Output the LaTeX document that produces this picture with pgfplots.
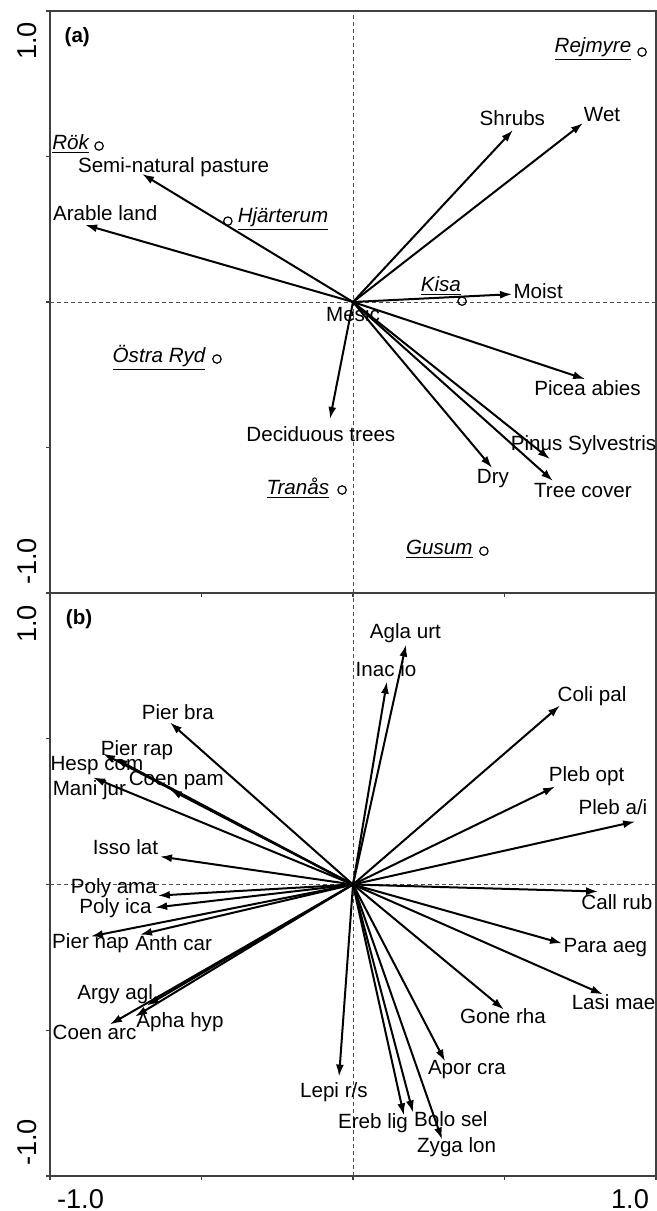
\documentclass[border=0pt]{standalone}
\usepackage{fontspec}
\setmainfont{Liberation Sans}
\usepackage{pgfplots}
\pgfplotsset{compat=1.18}
\usepackage{pgfplotstable}
\usetikzlibrary{arrows.meta}

\newcommand{\lab}{\fontsize{10.3}{12}\selectfont}
\newcommand{\tk}{\fontsize{13.6}{16}\selectfont}

% (a) environmental variables: arrow tips
\pgfplotstableread[col sep=comma]{
u,v
-0.696,0.440
-0.884,0.265
0.528,0.591
0.759,0.615
0.525,0.027
0.766,-0.265
0.650,-0.540
0.660,-0.615
0.459,-0.570
-0.076,-0.402
}\arrowsA

\pgfplotstableread[col sep=comma]{
x,y,lab
-0.592,0.464,Semi-natural pasture
-0.818,0.306,Arable land
0.526,0.632,Shrubs
0.822,0.646,Wet
0.611,0.038,Moist
0.000,-0.041,Mesic
0.774,-0.296,Picea abies
0.761,-0.491,Pinus Sylvestris
0.759,-0.649,Tree cover
0.462,-0.605,Dry
-0.106,-0.454,Deciduous trees
}\labA

% (a) sites
\pgfplotstableread[col sep=comma]{
x,y
0.954,0.859
-0.838,0.536
-0.413,0.278
0.360,0.003
-0.449,-0.196
-0.036,-0.646
0.432,-0.856
}\sitesA

\pgfplotstableread[col sep=comma]{
x,y,lab
0.792,0.869,Rejmyre
-0.932,0.543,Rök
-0.231,0.285,Hjärterum
0.290,0.055,Kisa
-0.640,-0.192,Östra Ryd
-0.182,-0.639,Tranås
0.285,-0.849,Gusum
}\sitelabA

% (b) species
\pgfplotstableread[col sep=comma]{
u,v
-0.604,0.556
-0.825,0.449
-0.785,0.432
-0.604,0.326
-0.858,0.367
-0.637,0.096
-0.644,-0.038
-0.653,-0.079
-0.865,-0.178
-0.703,-0.172
-0.680,-0.415
-0.719,-0.453
-0.802,-0.480
-0.046,-0.659
0.168,-0.792
0.198,-0.782
0.294,-0.875
0.304,-0.607
0.498,-0.429
0.825,-0.377
0.690,-0.202
0.809,-0.024
0.931,0.216
0.667,0.336
0.683,0.614
0.175,0.823
0.112,0.696
}\arrowsB

\pgfplotstableread[col sep=comma]{
x,y,lab
-0.578,0.590,Pier bra
-0.713,0.460,Pier rap
-0.845,0.408,Hesp com
-0.583,0.357,Coen pam
-0.870,0.322,Mani jur
-0.751,0.127,Isso lat
-0.789,-0.014,Poly ama
-0.784,-0.082,Poly ica
-0.866,-0.202,Pier nap
-0.592,-0.202,Anth car
-0.785,-0.377,Argy agl
-0.571,-0.473,Apha hyp
-0.853,-0.508,Coen arc
-0.063,-0.713,Lepi r/s
0.066,-0.820,Ereb lig
0.323,-0.806,Bolo sel
0.342,-0.902,Zyga lon
0.376,-0.635,Apor cra
0.495,-0.453,Gone rha
0.860,-0.405,Lasi mae
0.833,-0.216,Para aeg
0.871,-0.062,Call rub
0.858,0.264,Pleb a/i
0.771,0.370,Pleb opt
0.789,0.645,Coli pal
0.173,0.861,Agla urt
0.109,0.738,Inac io
}\labB

\pgfplotsset{
  ord/.style={
    scale only axis, width=303pt,
    xmin=-1, xmax=1, ymin=-1, ymax=1,
    xtick={-1,-0.5,0,0.5,1}, ytick={-1,-0.5,0,0.5,1},
    xticklabels={}, yticklabels={},
    tick align=outside, xtick pos=bottom, ytick pos=left,
    major tick length=2pt,
    axis line style={black!75, line width=0.7pt},
    tick style={black!75, line width=0.7pt},
    clip=false,
  },
  vec/.style={black, line width=1pt,
    -{Latex[length=6pt,width=4pt]},
    quiver={u=\thisrow{u}, v=\thisrow{v}}},
  txt/.style={draw=none, mark=none, nodes near coords,
    point meta=explicit symbolic,
    nodes near coords style={anchor=center, font=\lab, inner sep=0pt}},
}

\begin{document}
\begin{tikzpicture}
\path[use as bounding box] (-25pt,-309pt) rectangle (303.5pt,296.5pt);

\begin{axis}[ord, height=291pt, at={(0pt,0pt)}, anchor=south west]
\draw[black!70, line width=0.4pt, dash pattern=on 2pt off 1.5pt]
  (axis cs:-1,0) -- (axis cs:1,0) (axis cs:0,-1) -- (axis cs:0,1);
\addplot[vec] table[x expr=0, y expr=0] {\arrowsA};
\addplot[only marks, mark=o, mark size=2.1pt, mark options={line width=0.6pt}, black] table {\sitesA};
\addplot[txt] table[meta=lab] {\labA};
\addplot[draw=none, mark=none, point meta=explicit symbolic,
  nodes near coords={\underline{\itshape\pgfplotspointmeta}},
  nodes near coords style={anchor=center, font=\lab, inner sep=0pt}]
  table[meta=lab] {\sitelabA};
\node[font=\lab\bfseries] at (rel axis cs:0.045,0.955) {(a)};
\node[font=\tk, rotate=90, anchor=base east] at ([xshift=-6.5pt,yshift=-2pt]rel axis cs:0,1) {1.0};
\node[font=\tk, rotate=90, anchor=base west] at ([xshift=-6.5pt,yshift=0.5pt]rel axis cs:0,0) {-1.0};
\end{axis}

\begin{axis}[ord, height=291.5pt, at={(0pt,-291.5pt)}, anchor=south west]
\draw[black!70, line width=0.4pt, dash pattern=on 2pt off 1.5pt]
  (axis cs:-1,0) -- (axis cs:1,0) (axis cs:0,-1) -- (axis cs:0,1);
\addplot[vec] table[x expr=0, y expr=0] {\arrowsB};
\addplot[txt] table[meta=lab] {\labB};
\node[font=\lab\bfseries] at (rel axis cs:0.048,0.955) {(b)};
\node[font=\tk, rotate=90, anchor=base east] at ([xshift=-6.5pt,yshift=-2.5pt]rel axis cs:0,1) {1.0};
\node[font=\tk, rotate=90, anchor=base west] at ([xshift=-6.5pt,yshift=1.5pt]rel axis cs:0,0) {-1.0};
\node[font=\tk, anchor=base west] at ([yshift=-16pt]rel axis cs:0,0) {-1.0};
\node[font=\tk, anchor=base east] at ([yshift=-16pt]rel axis cs:1,0) {1.0};
\end{axis}
\end{tikzpicture}
\end{document}
